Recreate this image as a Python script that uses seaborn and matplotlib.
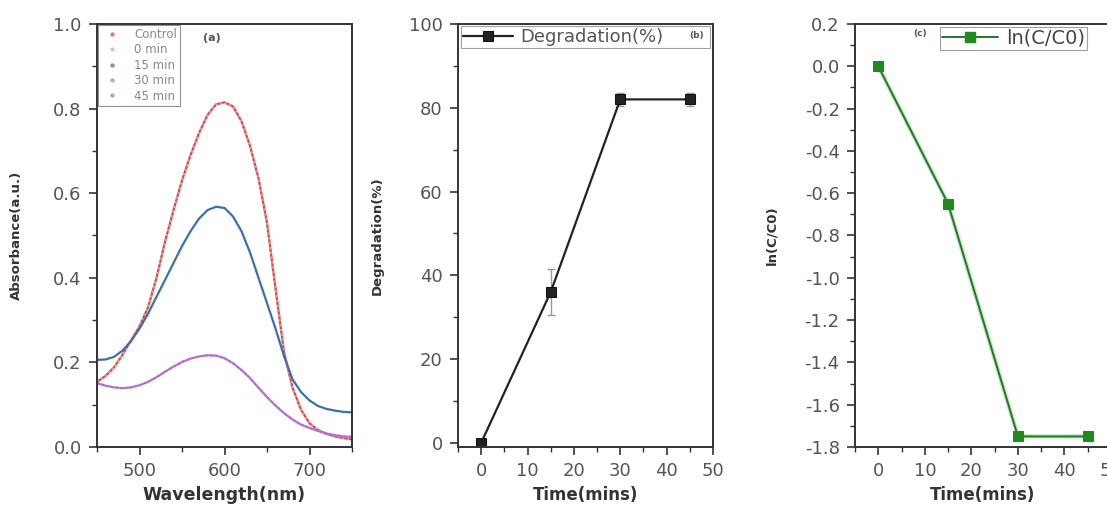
import numpy as np
import pandas as pd
import matplotlib
matplotlib.use("Agg")
import matplotlib.pyplot as plt
from matplotlib.ticker import MultipleLocator, FormatStrFormatter
from matplotlib.lines import Line2D
import seaborn as sns

# ---------------- data ----------------
wavelength = [450, 460, 470, 480, 490, 500, 510, 520, 530, 540, 550, 560, 570, 580, 590, 600,
              610, 620, 630, 640, 650, 660, 670, 680, 690, 700, 710, 720, 730, 740, 750]
abs_control = [0.154, 0.168, 0.188, 0.218, 0.252, 0.285, 0.330, 0.400, 0.485, 0.560, 0.630,
               0.690, 0.742, 0.785, 0.810, 0.815, 0.805, 0.770, 0.712, 0.635, 0.530, 0.375,
               0.225, 0.140, 0.088, 0.056, 0.040, 0.031, 0.025, 0.021, 0.018]
abs_0min = [0.154, 0.168, 0.188, 0.218, 0.252, 0.285, 0.330, 0.400, 0.485, 0.560, 0.630,
            0.690, 0.742, 0.785, 0.810, 0.815, 0.805, 0.770, 0.712, 0.635, 0.530, 0.375,
            0.225, 0.140, 0.088, 0.056, 0.040, 0.031, 0.025, 0.021, 0.018]
abs_15min = [0.206, 0.207, 0.213, 0.228, 0.250, 0.280, 0.315, 0.355, 0.395, 0.435, 0.475,
             0.510, 0.540, 0.560, 0.568, 0.565, 0.545, 0.510, 0.460, 0.400, 0.340, 0.280,
             0.215, 0.160, 0.130, 0.110, 0.097, 0.090, 0.086, 0.083, 0.082]
abs_30min = [0.151, 0.145, 0.141, 0.139, 0.141, 0.146, 0.154, 0.165, 0.178, 0.190, 0.201,
             0.209, 0.214, 0.217, 0.216, 0.210, 0.198, 0.182, 0.163, 0.140, 0.118, 0.098,
             0.080, 0.065, 0.053, 0.045, 0.038, 0.032, 0.028, 0.025, 0.024]
abs_45min = [0.151, 0.145, 0.141, 0.139, 0.141, 0.146, 0.154, 0.165, 0.178, 0.190, 0.201,
             0.209, 0.214, 0.217, 0.216, 0.210, 0.198, 0.182, 0.163, 0.140, 0.118, 0.098,
             0.080, 0.065, 0.053, 0.045, 0.038, 0.032, 0.028, 0.025, 0.024]
sample_names = ["Control", "0 min", "15 min", "30 min", "45 min"]
sample_colors = ["#d24a4a", "#f3a0a8", "#3d6fb0", "#c070d0", "#9a78c8"]

time_min = [0, 15, 30, 45]
degradation = [0, 36, 82, 82]
degradation_err = [1.0, 5.5, 1.5, 1.5]
ln_ratio = [0.0, -0.65, -1.75, -1.75]

# ---------------- style ----------------
sns.set_style("ticks")
plt.rcParams["font.family"] = ["DejaVu Sans"]
plt.rcParams["axes.unicode_minus"] = False
tick_color = "#555555"
spine_color = "#333333"

W, H = 1107, 507
fig = plt.figure(figsize=(W / 100, H / 100), dpi=100)

def px_axes(left, right, top, bottom):
    return fig.add_axes([left / W, (H - bottom) / H, (right - left) / W, (bottom - top) / H])

ax_a = px_axes(97, 352, 24, 447)
ax_b = px_axes(458, 713, 24, 447)
ax_c = px_axes(855, 1111, 24, 447)

def style_axes(ax):
    for s in ax.spines.values():
        s.set_visible(True)
        s.set_color(spine_color)
        s.set_linewidth(1.4)
    ax.tick_params(which="major", direction="out", length=6, width=1.2, pad=5,
                   colors=spine_color, labelcolor=tick_color, labelsize=13)
    ax.tick_params(which="minor", direction="out", length=3.5, width=1.0, colors=spine_color)
    ax.tick_params(top=False, right=False, which="both")

ylabel_kw = dict(fontsize=9.5, color="#333333", fontweight="bold")

# ---------------- (a) spectra ----------------
spec = pd.DataFrame({
    "Wavelength": wavelength * 5,
    "Absorbance": abs_control + abs_0min + abs_15min + abs_30min + abs_45min,
    "Sample": sum([[n] * len(wavelength) for n in sample_names], []),
})
sns.lineplot(data=spec, x="Wavelength", y="Absorbance", hue="Sample",
             palette=dict(zip(sample_names, sample_colors)), ax=ax_a, legend=False,
             linewidth=1.6, sort=False)
for ln, name in zip(ax_a.lines, sample_names):
    if name in ("0 min", "45 min"):
        ln.set_linestyle((0, (1, 1.5)))
        ln.set_linewidth(1.4)
ax_a.set_xlim(450, 750)
ax_a.set_ylim(0, 1.0)
ax_a.xaxis.set_major_locator(MultipleLocator(100))
ax_a.xaxis.set_minor_locator(MultipleLocator(50))
ax_a.yaxis.set_major_locator(MultipleLocator(0.2))
ax_a.yaxis.set_minor_locator(MultipleLocator(0.1))
ax_a.yaxis.set_major_formatter(FormatStrFormatter("%.1f"))
style_axes(ax_a)
ax_a.set_xlabel("Wavelength(nm)", fontsize=12.5, fontweight="bold", color="#333333")
ax_a.set_ylabel("Absorbance(a.u.)", **ylabel_kw)
ax_a.yaxis.set_label_coords(-0.29, 0.5)
handles = [Line2D([], [], linestyle="none", marker="o", markersize=2.2,
                  color=c, alpha=0.6) for c in sample_colors]
leg = ax_a.legend(handles, sample_names, loc="upper left", bbox_to_anchor=(0.0, 1.0),
                  fontsize=8.5, frameon=True, fancybox=False, borderaxespad=0.1,
                  labelspacing=0.2, handlelength=1.8, handletextpad=1.0,
                  borderpad=0.25, labelcolor="#888888")
leg.get_frame().set_edgecolor("#777777")
leg.get_frame().set_linewidth(0.8)
ax_a.text(0.416, 0.967, "(a)", transform=ax_a.transAxes, fontsize=8,
          fontweight="bold", color="#555555", ha="left", va="center")

# ---------------- (b) degradation ----------------
deg = pd.DataFrame({"Time": time_min, "Degradation": degradation})
sns.lineplot(data=deg, x="Time", y="Degradation", ax=ax_b, color="#222222",
             marker="s", markersize=7, markeredgecolor="#111111", linewidth=1.6,
             label="Degradation(%)", legend=False)
ax_b.errorbar(time_min, degradation, yerr=degradation_err, fmt="none",
              ecolor="#999999", elinewidth=1.0, capsize=3, zorder=1)
ax_b.set_xlim(-5, 50)
ax_b.set_ylim(-1, 100)
ax_b.xaxis.set_major_locator(MultipleLocator(10))
ax_b.xaxis.set_minor_locator(MultipleLocator(5))
ax_b.yaxis.set_major_locator(MultipleLocator(20))
ax_b.yaxis.set_minor_locator(MultipleLocator(10))
style_axes(ax_b)
ax_b.set_xlabel("Time(mins)", fontsize=12, fontweight="bold", color="#333333")
ax_b.set_ylabel("Degradation(%)", **ylabel_kw)
ax_b.yaxis.set_label_coords(-0.29, 0.5)
legb = ax_b.legend(loc="upper left", bbox_to_anchor=(0.01, 0.995, 0.98, 0.0),
                   mode="expand", fontsize=13, frameon=True, fancybox=False,
                   borderaxespad=0.0, borderpad=0.12, handlelength=2.8,
                   handletextpad=0.4, labelcolor="#555555")
legb.get_frame().set_edgecolor("#888888")
legb.get_frame().set_linewidth(0.8)
ax_b.text(0.905, 0.972, "(b)", transform=ax_b.transAxes, fontsize=6.5,
          fontweight="bold", color="#555555", ha="left", va="center", zorder=10)

# ---------------- (c) ln(C/C0) ----------------
lnd = pd.DataFrame({"Time": time_min, "ln": ln_ratio})
sns.lineplot(data=lnd, x="Time", y="ln", ax=ax_c, color="#8fe08f", linewidth=3.2,
             alpha=0.6, legend=False)
sns.lineplot(data=lnd, x="Time", y="ln", ax=ax_c, color="#2f6f2f",
             marker="s", markersize=7, markerfacecolor="#1f8a1f",
             markeredgecolor="#1f8a1f", linewidth=1.4, legend=False)
ax_c.set_xlim(-5, 50)
ax_c.set_ylim(-1.8, 0.2)
ax_c.xaxis.set_major_locator(MultipleLocator(10))
ax_c.xaxis.set_minor_locator(MultipleLocator(5))
ax_c.yaxis.set_major_locator(MultipleLocator(0.2))
ax_c.yaxis.set_minor_locator(MultipleLocator(0.1))
ax_c.yaxis.set_major_formatter(FormatStrFormatter("%.1f"))
style_axes(ax_c)
ax_c.set_xlabel("Time(mins)", fontsize=12, fontweight="bold", color="#333333")
ax_c.set_ylabel("ln(C/C0)", **ylabel_kw)
ax_c.yaxis.set_label_coords(-0.30, 0.5)
legc_handle = [Line2D([], [], color="#2f6f2f", marker="s", markersize=7,
                      markerfacecolor="#1f8a1f", markeredgecolor="#1f8a1f", linewidth=1.4)]
legc = ax_c.legend(legc_handle, ["ln(C/C0)"], loc="upper left",
                   bbox_to_anchor=(0.332, 0.993), fontsize=14, frameon=True,
                   fancybox=False, borderaxespad=0.0, borderpad=0.1, handlelength=2.9,
                   handletextpad=0.4, labelcolor="#444444")
legc.get_frame().set_edgecolor("#888888")
legc.get_frame().set_linewidth(0.8)
ax_c.text(0.227, 0.977, "(c)", transform=ax_c.transAxes, fontsize=6.5,
          fontweight="bold", color="#555555", ha="left", va="center")

fig.savefig("out.png", dpi=100)
